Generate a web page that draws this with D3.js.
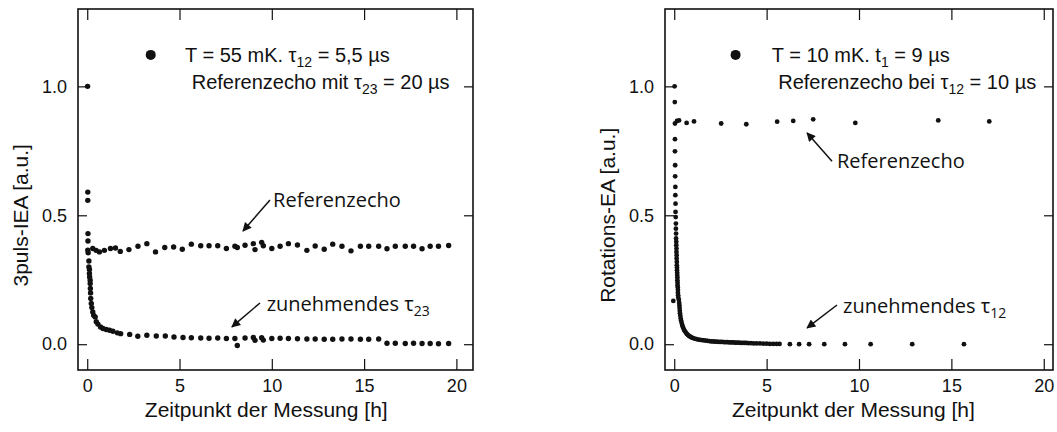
<!DOCTYPE html>
<html>
<head>
<meta charset="utf-8">
<script src="https://cdn.jsdelivr.net/npm/d3@7"></script>
<style>
  html, body { margin: 0; padding: 0; background: #fff; }
  svg { display: block; }
  .tick text { font-family: "Liberation Sans", Arial, sans-serif; font-size: 18px; fill: #111; }
  .title { font-family: "Liberation Sans", Arial, sans-serif; font-size: 21px; fill: #111; }
  .legend { font-family: "Liberation Sans", Arial, sans-serif; font-size: 20px; fill: #111; }
  .note { font-family: "Open Sans", "Noto Sans", sans-serif; font-size: 20px; fill: #111; }
</style>
</head>
<body>
<svg id="chart" width="1057" height="432"></svg>
<script>
// ---- Left panel: 3-pulse echo amplitude (T = 55 mK) ----
const leftRefT = [0.03, 0.3, 0.48, 0.66, 0.93, 1.26, 1.53, 1.79, 2.26, 2.75, 3.23, 3.7, 4.2, 4.68, 5.15, 5.64, 6.15,
  6.6, 7.07, 7.54, 8.0, 8.13, 8.55, 9.0, 9.09, 9.45, 9.54, 10.0, 10.45, 10.9, 11.39, 11.9, 12.35, 12.84, 13.3,
  13.8, 14.29, 14.8, 15.25, 15.79, 16.24, 16.69, 17.23, 17.68, 18.14, 18.58, 19.03, 19.58];
const leftRefV = [0.365, 0.371, 0.364, 0.358, 0.364, 0.371, 0.373, 0.360, 0.367, 0.380, 0.390, 0.358, 0.375, 0.377, 0.368, 0.388, 0.382,
  0.382, 0.382, 0.371, 0.380, 0.375, 0.384, 0.390, 0.367, 0.395, 0.382, 0.371, 0.380, 0.390, 0.385, 0.364, 0.381, 0.368, 0.388,
  0.380, 0.362, 0.380, 0.380, 0.380, 0.370, 0.380, 0.380, 0.380, 0.370, 0.380, 0.380, 0.383];

const leftDecT = [0.02, 0.03, 0.03, 0.04, 0.04, 0.05, 0.09, 0.09, 0.12, 0.12, 0.13, 0.16, 0.16, 0.17, 0.18, 0.19,
  0.22, 0.25, 0.3, 0.35, 0.43, 0.49, 0.58, 0.72, 0.85, 1.03, 1.21, 1.39, 1.63, 1.81, 2.3, 2.74, 3.23, 3.74, 4.23,
  4.7, 5.19, 5.64, 6.15, 6.6, 7.07, 7.54, 8.0, 8.13, 8.55, 9.0, 9.09, 9.45, 9.54, 10.0, 10.45, 10.9, 11.39, 11.9,
  12.35, 12.84, 13.3, 13.8, 14.29, 14.8, 15.25, 15.79, 16.24, 16.69, 17.23, 17.68, 18.14, 18.58, 19.03, 19.58];
const leftDecV = [1.0, 0.590, 0.558, 0.429, 0.400, 0.355, 0.323, 0.300, 0.290, 0.274, 0.261, 0.248, 0.235, 0.216, 0.199, 0.177,
  0.158, 0.142, 0.125, 0.112, 0.106, 0.087, 0.078, 0.067, 0.061, 0.057, 0.054, 0.050, 0.044, 0.041, 0.038, 0.031, 0.035, 0.032, 0.032,
  0.028, 0.026, 0.025, 0.024, 0.023, 0.024, 0.022, 0.022, -0.005, 0.024, 0.026, 0.015, 0.025, 0.016, 0.022, 0.023, 0.022, 0.021, 0.020,
  0.020, 0.019, 0.019, 0.020, 0.020, 0.019, 0.019, 0.020, 0.004, 0.004, 0.003, 0.004, 0.003, 0.003, 0.002, 0.003];

// ---- Right panel: rotary echo amplitude (T = 10 mK) ----
const rightRefT = [0.04, 0.15, 0.26, 0.67, 1.07, 2.54, 3.9, 5.57, 6.44, 7.52, 9.8, 14.29, 17.05];
const rightRefV = [0.856, 0.866, 0.868, 0.858, 0.864, 0.856, 0.853, 0.863, 0.866, 0.872, 0.858, 0.868, 0.864];

const rightDecT = [0.02, 0.03, 0.04, 0.04, 0.05, 0.05, 0.06, 0.06, 0.07, 0.07, 0.08, 0.09, 0.09, 0.1, 0.1, 0.11, 0.11,
  0.12, 0.12, 0.13, 0.13, 0.14, 0.14, 0.15, 0.15, 0.16, 0.16, 0.17, 0.17, 0.18, 0.18, 0.19, 0.2, 0.2, 0.21, 0.22,
  -0.05, 0.25, 0.27, 0.28, 0.29, 0.3, 0.31, 0.33, 0.35, 0.37, 0.4, 0.43, 0.46, 0.5, 0.54, 0.58, 0.63, 0.68, 0.74,
  0.8, 0.87, 0.94, 1.02, 1.1, 1.2, 1.3, 1.4, 1.5, 1.6, 1.7, 1.8, 1.9, 2.0, 2.1, 2.2, 2.3, 2.4, 2.5, 2.6, 2.7, 2.8,
  2.9, 3.0, 3.1, 3.2, 3.3, 3.4, 3.5, 3.6, 3.7, 3.8, 3.9, 4.0, 4.15, 4.3, 4.46, 4.64, 4.82, 5.0, 5.18, 5.36, 5.54,
  5.7, 6.26, 6.76, 7.3, 8.12, 9.24, 10.63, 12.88, 15.68];
const rightDecV = [1.0, 0.939, 0.795, 0.748, 0.694, 0.651, 0.610, 0.578, 0.545, 0.513, 0.493, 0.468, 0.448, 0.429, 0.410, 0.397, 0.384,
  0.371, 0.358, 0.345, 0.332, 0.319, 0.306, 0.297, 0.287, 0.277, 0.268, 0.259, 0.248, 0.238, 0.229, 0.220, 0.210, 0.200, 0.190, 0.181,
  0.168, 0.172, 0.160, 0.150, 0.140, 0.130, 0.120, 0.110, 0.100, 0.092, 0.083, 0.075, 0.068, 0.061, 0.055, 0.050, 0.045, 0.040, 0.036,
  0.032, 0.029, 0.026, 0.024, 0.022, 0.020, 0.018, 0.017, 0.016, 0.015, 0.014, 0.013, 0.012, 0.011, 0.011, 0.010, 0.010, 0.009, 0.009, 0.009, 0.008, 0.008,
  0.008, 0.007, 0.007, 0.007, 0.006, 0.006, 0.006, 0.005, 0.005, 0.005, 0.005, 0.004, 0.004, 0.003, 0.003, 0.003, 0.002, 0.002, 0.001, 0.001, 0.001,
  0.001, 0.0, 0.0, 0.0, 0.0, 0.0, 0.0, 0.0, 0.0];

// ---- Axes ----
const xTicks = [0, 5, 10, 15, 20];
const yTicks = [0.0, 0.5, 1.0];
const xTitle = "Zeitpunkt der Messung [h]";
const leftYTitle = "3puls-IEA [a.u.]";
const rightYTitle = "Rotations-EA [a.u.]";

const zip = (t, v) => t.map((d, i) => ({ t: d, v: v[i] }));

const panels = [
  {
    range: [78, 473], domain: [-0.5, 20.9], r: 2.7,
    series: [zip(leftRefT, leftRefV), zip(leftDecT, leftDecV)],
    yTitle: leftYTitle,
    legend: { mx: 3.44, my: 1.122, tx: 5.3, ty1: 1.094, tx2: 5.66, ty2: 0.99,
      line1: ["T = 55 mK. τ", "12", " = 5,5 µs"], line2: ["Referenzecho mit τ", "23", " = 20 µs"] },
    notes: [
      { text: "Referenzecho", sub: "", x: 10.07, y: 0.532, from: [9.9, 0.559], to: [8.44, 0.439] },
      { text: "zunehmendes τ", sub: "23", x: 9.72, y: 0.129, from: [9.36, 0.16], to: [7.84, 0.067] }
    ]
  },
  {
    range: [665, 1053], domain: [-0.5, 20.5], r: 2.4,
    series: [zip(rightRefT, rightRefV), zip(rightDecT, rightDecV)],
    yTitle: rightYTitle,
    legend: { mx: 3.32, my: 1.122, tx: 5.28, ty1: 1.094, tx2: 5.63, ty2: 0.99,
      line1: ["T = 10 mK. t", "1", " = 9 µs"], line2: ["Referenzecho bei τ", "12", " = 10 µs"] },
    notes: [
      { text: "Referenzecho", sub: "", x: 8.81, y: 0.683, from: [8.54, 0.71], to: [7.19, 0.819] },
      { text: "zunehmendes τ", sub: "12", x: 9.14, y: 0.121, from: [8.81, 0.152], to: [7.19, 0.063] }
    ]
  }
];

const svg = d3.select("#chart");
svg.append("defs").append("marker")
  .attr("id", "head").attr("viewBox", "0 0 10 10")
  .attr("refX", 9).attr("refY", 5)
  .attr("markerWidth", 11).attr("markerHeight", 9)
  .attr("markerUnits", "userSpaceOnUse")
  .attr("orient", "auto")
  .append("path").attr("d", "M0,0 L10,5 L0,10 Z").attr("fill", "#111");

const y = d3.scaleLinear().domain([-0.1, 1.3]).range([370, 9]);

function writeSub(sel, parts, subSize) {
  sel.append("tspan").text(parts[0]);
  sel.append("tspan").attr("font-size", subSize).attr("dy", 5).text(parts[1]);
  sel.append("tspan").attr("dy", -5).text(parts[2]);
}

panels.forEach(p => {
  const x = d3.scaleLinear().domain(p.domain).range(p.range);
  const g = svg.append("g");

  const styleAxis = a => {
    a.select(".domain").remove();
    a.selectAll(".tick line").attr("stroke", "#111").attr("stroke-width", 1.2);
  };

  g.append("g").attr("transform", `translate(0,${y.range()[0]})`)
    .call(d3.axisBottom(x).tickValues(xTicks).tickSize(-11).tickPadding(9).tickFormat(d3.format("d")))
    .call(styleAxis);
  g.append("g").attr("transform", `translate(0,${y.range()[1]})`)
    .call(d3.axisTop(x).tickValues(xTicks).tickSize(-11).tickFormat(""))
    .call(styleAxis);
  g.append("g").attr("transform", `translate(${p.range[0]},0)`)
    .call(d3.axisLeft(y).tickValues(yTicks).tickSize(-9).tickPadding(11).tickFormat(d3.format(".1f")))
    .call(styleAxis);
  g.append("g").attr("transform", `translate(${p.range[1]},0)`)
    .call(d3.axisRight(y).tickValues(yTicks).tickSize(-9).tickFormat(""))
    .call(styleAxis);
  g.selectAll(".tick text").attr("fill", "#111").attr("font-family", null).attr("font-size", null);

  // frame
  g.append("rect")
    .attr("x", p.range[0]).attr("y", y.range()[1])
    .attr("width", p.range[1] - p.range[0]).attr("height", y.range()[0] - y.range()[1])
    .attr("fill", "none").attr("stroke", "#111").attr("stroke-width", 1.6);

  // data points
  p.series.forEach(s => {
    g.append("g").selectAll("circle").data(s).join("circle")
      .attr("cx", d => x(d.t)).attr("cy", d => y(d.v)).attr("r", p.r).attr("fill", "#111");
  });

  // axis titles
  g.append("text").attr("class", "title")
    .attr("x", x(9.7)).attr("y", 417).attr("text-anchor", "middle").text(xTitle);
  const yx = p.range[0] - 50;
  g.append("text").attr("class", "title")
    .attr("transform", `translate(${yx},${y(0.5)}) rotate(-90)`)
    .attr("text-anchor", "middle").text(p.yTitle);

  // legend
  const L = p.legend;
  g.append("circle").attr("cx", x(L.mx)).attr("cy", y(L.my)).attr("r", 5).attr("fill", "#111");
  writeSub(g.append("text").attr("class", "legend").attr("x", x(L.tx)).attr("y", y(L.ty1)), L.line1, 14);
  writeSub(g.append("text").attr("class", "legend").attr("x", x(L.tx2)).attr("y", y(L.ty2)), L.line2, 14);

  // annotations with arrows
  p.notes.forEach(n => {
    g.append("line")
      .attr("x1", x(n.from[0])).attr("y1", y(n.from[1]))
      .attr("x2", x(n.to[0])).attr("y2", y(n.to[1]))
      .attr("stroke", "#111").attr("stroke-width", 1.5).attr("marker-end", "url(#head)");
    const t = g.append("text").attr("class", "note").attr("x", x(n.x)).attr("y", y(n.y));
    t.append("tspan").text(n.text);
    if (n.sub) t.append("tspan").attr("font-size", 14).attr("dy", 5).text(n.sub);
  });
});
</script>
</body>
</html>
